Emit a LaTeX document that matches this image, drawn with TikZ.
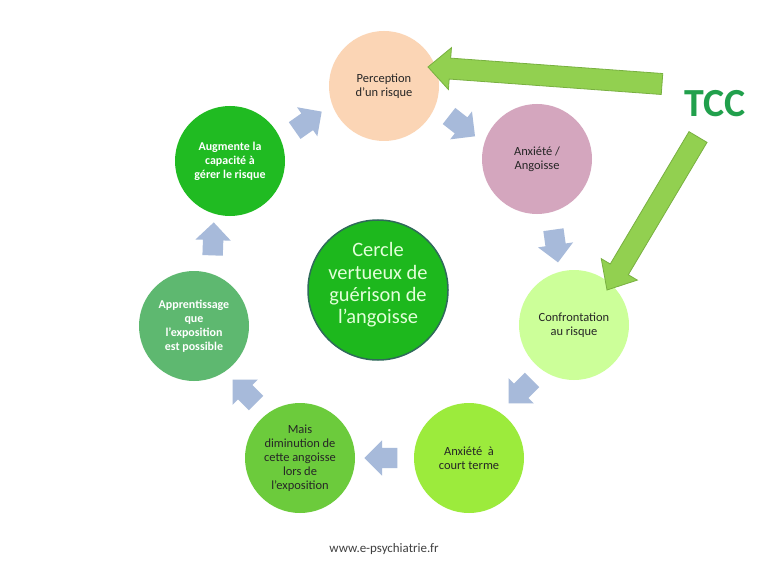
\documentclass[tikz,border=0pt]{standalone}
\usepackage{fontspec}
\setmainfont{Carlito}
\usetikzlibrary{shapes.arrows,calc}
\definecolor{cperc}{HTML}{FBD5B5}
\definecolor{canx}{HTML}{D4A6BE}
\definecolor{cconf}{HTML}{CCFF99}
\definecolor{ccourt}{HTML}{9CEB3C}
\definecolor{cmais}{HTML}{6CCB3C}
\definecolor{cappr}{HTML}{5EB870}
\definecolor{caugm}{HTML}{20BB22}
\definecolor{ccentre}{HTML}{1DB81D}
\definecolor{ccentreb}{HTML}{2F6A5A}
\definecolor{ccentret}{HTML}{E2FFD9}
\definecolor{csmall}{HTML}{A7BADA}
\definecolor{cbig}{HTML}{92D050}
\definecolor{cbigb}{HTML}{78B040}
\definecolor{ctcc}{HTML}{21A04C}
\definecolor{cfoot}{HTML}{404040}
\definecolor{cdark}{HTML}{262626}
\begin{document}
\begin{tikzpicture}[x=1bp,y=-1bp,
  stage/.style={circle, minimum size=110bp, inner sep=0pt, align=center,
    font=\fontsize{12.5}{14}\selectfont, text=cdark},
  lighttext/.style={text=white, font=\fontsize{12}{14}\selectfont\bfseries},
  smallarr/.style={single arrow, fill=csmall, minimum height=33bp,
    inner xsep=0pt, inner ysep=10bp, single arrow head extend=7.5bp,
    single arrow tip angle=90},
  bigarr/.style={fill=cbig, draw=cbigb, line width=0.8bp, line join=miter}]
\useasboundingbox[fill=white] (0,0) rectangle (768,576);

% stages
\node[stage, fill=cperc] (perc) at (384,86) {Perception\\d'un risque};
\node[stage, fill=canx] (anx) at (537,159) {Anxiété /\\Angoisse};
\node[stage, fill=cconf] (conf) at (574,325) {Confrontation\\au risque};
\node[stage, fill=ccourt] (court) at (469,458) {Anxiété \ à\\court terme};
\node[stage, fill=cmais] (mais) at (300,458) {Mais\\diminution de\\cette angoisse\\lors de\\l'exposition};
\node[stage, fill=cappr, lighttext] (appr) at (194,326) {Apprentissage\\que\\l'exposition\\est possible};
\node[stage, fill=caugm, lighttext] (augm) at (230,161) {Augmente la\\capacité à\\gérer le risque};

% centre
\node[circle, minimum size=140bp, inner sep=0pt, fill=ccentre, draw=ccentreb,
  line width=1.5bp] (centre) at (378,290) {};
\node[align=center, text=ccentret, font=\fontsize{20.5}{22.5}\selectfont]
  (centret) at (378,285) {Cercle\\vertueux de\\guérison de\\l'angoisse};

% small cycle arrows
\node[smallarr, rotate=-38] (a1) at (458,123) {};
\node[smallarr, rotate=-82] (a2) at (555,241) {};
\node[smallarr, rotate=-135] (a3) at (524,388) {};
\node[smallarr, rotate=180] (a4) at (386,458) {};
\node[smallarr, rotate=135] (a5) at (248,395) {};
\node[smallarr, rotate=88] (a6) at (213,244) {};
\node[smallarr, rotate=35] (a7) at (304,124) {};

% TCC
\node[text=ctcc, font=\fontsize{40}{48}\selectfont\bfseries] (tcc) at (715,104) {TCC};

% big arrows
\coordinate (sA) at (662,84);
\coordinate (tA) at (428,67);
\coordinate (bA) at ($(tA)!22bp!(sA)$);
\path[bigarr] ($(sA)!10.5bp!90:(tA)$) -- ($(bA)!10.5bp!-90:(sA)$) --
  ($(bA)!21bp!-90:(sA)$) -- (tA) -- ($(bA)!21bp!90:(sA)$) --
  ($(bA)!10.5bp!90:(sA)$) -- ($(sA)!10.5bp!-90:(tA)$) -- cycle;

\coordinate (sB) at (698,137);
\coordinate (tB) at (607,290);
\coordinate (bB) at ($(tB)!24bp!(sB)$);
\path[bigarr] ($(sB)!10.5bp!90:(tB)$) -- ($(bB)!10.5bp!-90:(sB)$) --
  ($(bB)!21bp!-90:(sB)$) -- (tB) -- ($(bB)!21bp!90:(sB)$) --
  ($(bB)!10.5bp!90:(sB)$) -- ($(sB)!10.5bp!-90:(tB)$) -- cycle;

% footer
\node[text=cfoot, font=\fontsize{13}{15}\selectfont] (foot) at (384,549) {www.e-psychiatrie.fr};
\end{tikzpicture}
\end{document}
